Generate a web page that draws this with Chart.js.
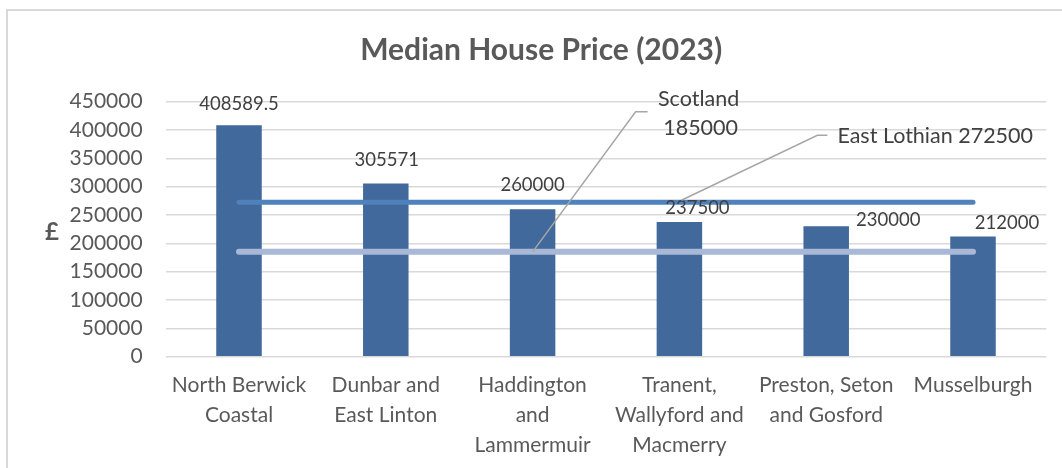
<!DOCTYPE html>
<html>
<head>
<meta charset="utf-8">
<script src="https://cdn.jsdelivr.net/npm/chart.js"></script>
<style>
  html, body { margin: 0; padding: 0; background: #fff; }
  #wrap { width: 1062px; height: 468px; }
</style>
</head>
<body>
<div id="wrap"><canvas id="graf" width="1062" height="468"></canvas></div>
<script>
// Median house price per ward (2023)
var wards = [
  ["North Berwick", "Coastal"],
  ["Dunbar and", "East Linton"],
  ["Haddington", "and", "Lammermuir"],
  ["Tranent,", "Wallyford and", "Macmerry"],
  ["Preston, Seton", "and Gosford"],
  "Musselburgh"
];
var prices = [408589.5, 305571, 260000, 237500, 230000, 212000];
// reference lines
var eastLothian = [272500, 272500, 272500, 272500, 272500, 272500];
var scotland = [185000, 185000, 185000, 185000, 185000, 185000];
var yTicks = [0, 50000, 100000, 150000, 200000, 250000, 300000, 350000, 400000, 450000];

// where each bar label sits relative to the top of its bar (like the moved labels in excel)
var labelNudge = [[0, -21], [1, -23.5], [0, -24], [18, -14.5], [62, -6.5], [34, -13.5]];

var grey = "#595959";
var txt = "#404040";

// draws the outer frame, bar labels, callouts and the £ axis label
var extras = {
  id: "extras",
  beforeDraw: function(chart) {
    var c = chart.ctx;
    c.save();
    c.strokeStyle = "#d9d9d9";
    c.lineWidth = 2;
    c.strokeRect(7, 10, 1200, 600);
    c.restore();
  },
  afterDatasetsDraw: function(chart) {
    var c = chart.ctx;
    c.save();
    // bar values
    var bars = chart.getDatasetMeta(2).data;
    c.font = "18.5px Lato";
    c.fillStyle = txt;
    c.textAlign = "center";
    c.textBaseline = "middle";
    bars.forEach(function(b, i) {
      c.fillText(String(prices[i]), b.x + labelNudge[i][0], b.y + labelNudge[i][1]);
    });

    // callouts for the two reference lines
    var sc = chart.getDatasetMeta(1).data[2];
    var el = chart.getDatasetMeta(0).data[3];
    c.strokeStyle = "#a6a6a6";
    c.lineWidth = 1.5;
    c.beginPath();
    c.moveTo(sc.x, sc.y);
    c.lineTo(sc.x + 103, sc.y - 140);
    c.lineTo(sc.x + 115, sc.y - 140);
    c.moveTo(el.x + 2, el.y - 2);
    c.lineTo(el.x + 138, el.y - 67);
    c.lineTo(el.x + 148, el.y - 67);
    c.stroke();

    c.font = "21.5px Lato";
    c.fillStyle = txt;
    c.textAlign = "center";
    c.fillText("Scotland", sc.x + 166, sc.y - 153);
    c.fillText(String(scotland[2]), sc.x + 168, sc.y - 124);
    c.textAlign = "left";
    c.fillText("East Lothian " + eastLothian[3], el.x + 158, el.y - 66);

    // y axis title, kept upright like the original
    var y = chart.scales.y;
    c.font = "bold 24px Lato";
    c.fillStyle = grey;
    c.textAlign = "center";
    c.fillText("£", 52, (y.top + y.bottom) / 2 + 3);
    c.restore();
  }
};

new Chart(document.getElementById("graf"), {
  type: "bar",
  data: {
    labels: wards,
    datasets: [
      {
        type: "line",
        label: "East Lothian",
        data: eastLothian,
        borderColor: "#4f81bd",
        borderWidth: 5,
        borderCapStyle: "round",
        pointRadius: 0,
        fill: false,
        order: 0
      },
      {
        type: "line",
        label: "Scotland",
        data: scotland,
        borderColor: "#a8b8d6",
        borderWidth: 6,
        borderCapStyle: "round",
        pointRadius: 0,
        fill: false,
        order: 1
      },
      {
        label: "Median House Price",
        data: prices,
        backgroundColor: "#41699b",
        barPercentage: 0.31,
        categoryPercentage: 1,
        order: 2
      }
    ]
  },
  options: {
    responsive: false,
    animation: false,
    layout: { padding: { left: 36, right: 15.6, top: 0, bottom: 0 } },
    plugins: {
      legend: { display: false },
      tooltip: { enabled: false },
      title: {
        display: true,
        text: "Median House Price (2023)",
        color: grey,
        font: { family: "Lato", size: 30, weight: "bold" },
        padding: { top: 32, bottom: 33.7 }
      }
    },
    scales: {
      x: {
        grid: { display: false, drawTicks: false },
        border: { display: false },
        ticks: {
          color: grey,
          font: { family: "Lato", size: 21, lineHeight: "30px" },
          padding: 14,
          maxRotation: 0,
          autoSkip: false
        },
        afterFit: function(s) { s.height = 111.3; }
      },
      y: {
        min: 0,
        max: 450000,
        grid: { color: "#d9d9d9", lineWidth: 1.5, drawTicks: false },
        border: { display: false },
        afterBuildTicks: function(s) {
          s.ticks = yTicks.map(function(v) { return { value: v }; });
        },
        ticks: {
          color: grey,
          font: { family: "Lato", size: 21 },
          padding: 23,
          callback: function(v) { return String(v); }
        },
        afterFit: function(s) { s.width = 129.6; }
      }
    }
  },
  plugins: [extras]
});
</script>
</body>
</html>
